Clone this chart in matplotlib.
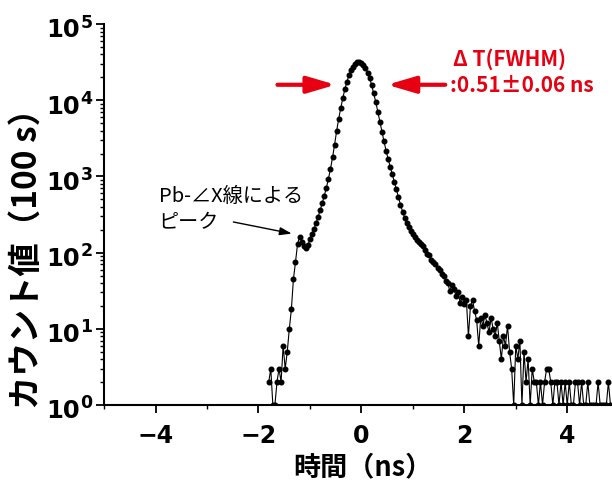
import numpy as np
import matplotlib
matplotlib.use("Agg")
import matplotlib.pyplot as plt
from matplotlib.ticker import MultipleLocator, LogLocator, NullFormatter

# --- Fuentes ---
plt.rcParams['font.family'] = ['Noto Sans CJK JP', 'DejaVu Sans']
TICK_FONT = 'DejaVu Sans'

# --- Datos del espectro de tiempo (canales de 0.04 ns) ---
T0 = -1.80
DT = 0.04

# subida y pico de Pb-LX (-1.80 .. -0.88 ns)
counts_rise = [2, 3, 1, 1, 2, 3, 2, 6, 3, 5, 10, 18, 45, 75, 130, 162,
               140, 122, 116, 125, 150, 175, 205, 245]
# pico principal (-0.84 .. 1.08 ns)
counts_peak = [295, 363, 447, 562, 708, 933, 1260, 1780, 2630, 3980,
               5750, 7940, 10700, 14100, 17600, 21400, 24800, 27600, 29900, 31600,
               32000, 30900, 29200, 26300, 22900, 19500, 15800, 12300, 9500, 7080,
               5250, 3890, 2880, 2190, 1700, 1350, 1070, 851, 676, 537,
               427, 347, 288, 245, 219, 195, 178, 162, 148]
# cola (1.12 .. 4.88 ns)
counts_tail = [138, 128, 122, 110, 95, 92, 80, 76, 70, 63,
               60, 52, 50, 43, 40, 31, 38, 33, 27, 30,
               22, 26, 21, 24, 8, 20, 24, 17, 13, 6,
               14, 11, 15, 12, 9, 14, 10, 8, 12, 7,
               4, 8, 6, 11, 5, 3, 1, 6, 4, 7,
               1, 5, 2, 4, 1, 3, 2, 2, 1, 2,
               1, 2, 3, 3, 2, 1, 2, 2, 1, 2,
               1, 2, 1, 2, 1, 1, 2, 2, 1, 2,
               1, 1, 2, 1, 1, 1, 1, 2, 1, 1,
               1, 1, 2, 1, 1]

counts = np.array(counts_rise + counts_peak + counts_tail, dtype=float)
time_ns = T0 + DT * np.arange(len(counts))

FWHM = 0.51
FWHM_ERR = 0.06
RED = '#e60012'

y_decades = [0, 1, 2, 3, 4, 5]
x_ticks = [-4, -2, 0, 2, 4]
x_labels = ['\u22124', '\u22122', '0', '2', '4']

fig = plt.figure(figsize=(6.12, 4.83), dpi=100)
ax = fig.add_axes([0.170, 0.1615, 0.830, 0.7885])

ax.plot(time_ns, counts, color='black', lw=0.8, marker='o', ms=3.3,
        mfc='black', mec='black')

ax.set_yscale('log')
ax.set_ylim(1, 1e5)
ax.set_xlim(-5, 4.87)

# eje Y: potencias de 10 dibujadas a mano (base grande, exponente grande)
ax.set_yticks([10.0 ** d for d in y_decades])
ax.yaxis.set_major_formatter(NullFormatter())
ax.yaxis.set_minor_locator(LogLocator(base=10, subs=np.arange(2, 10), numticks=10))
ax.yaxis.set_minor_formatter(NullFormatter())
ytrans = ax.get_yaxis_transform()
for d in y_decades:
    ax.annotate('10', xy=(0, 10.0 ** d), xycoords=ytrans, xytext=(-17.5, -9.5),
                textcoords='offset points', ha='right', va='baseline',
                fontsize=17.5, fontfamily=TICK_FONT, fontweight='bold',
                annotation_clip=False)
    ax.annotate(str(d), xy=(0, 10.0 ** d), xycoords=ytrans, xytext=(-17.0, -2.5),
                textcoords='offset points', ha='left', va='baseline',
                fontsize=12.5, fontfamily=TICK_FONT, fontweight='bold',
                annotation_clip=False)

ax.set_xticks(x_ticks, labels=x_labels, fontsize=17, fontfamily=TICK_FONT,
              fontweight='bold')
ax.xaxis.set_minor_locator(MultipleLocator(1))
ax.tick_params(axis='x', which='major', pad=8)

ax.tick_params(which='major', length=6, width=1.3)
ax.tick_params(which='minor', length=3, width=1.0)
for side in ['top', 'right']:
    ax.spines[side].set_visible(False)
for side in ['left', 'bottom']:
    ax.spines[side].set_linewidth(1.5)

ax.set_xlabel('時間（ns）', fontsize=19.5, fontweight='bold')
ax.xaxis.set_label_coords(0.51, -0.127)
ax.set_ylabel('カウント値（100 s）', fontsize=24, fontweight='bold')
ax.yaxis.set_label_coords(-0.118, 0.405)

# --- Anotación del pico Pb-LX ---
ax.text(-3.94, 469, 'Pb-∠X線による', fontsize=14.5, va='baseline', ha='left')
ax.text(-3.94, 207, 'ピーク', fontsize=14.5, va='baseline', ha='left')
ax.annotate('', xy=(-1.30, 175), xytext=(-2.54, 257),
            arrowprops=dict(arrowstyle='-|>,head_length=0.6,head_width=0.2',
                            color='black', lw=1.0, mutation_scale=12))

# --- Flechas de FWHM ---
half_max = counts.max() / 2
arrow_style = '-|>,head_length=0.95,head_width=0.28'
ax.annotate('', xy=(-0.50, half_max), xytext=(-1.63, half_max),
            arrowprops=dict(arrowstyle=arrow_style, color=RED, lw=3,
                            mutation_scale=18, shrinkA=0, shrinkB=0))
ax.annotate('', xy=(0.50, half_max), xytext=(1.63, half_max),
            arrowprops=dict(arrowstyle=arrow_style, color=RED, lw=3,
                            mutation_scale=18, shrinkA=0, shrinkB=0))

ax.text(1.79, 2.8e4, 'Δ T(FWHM)', color=RED, fontsize=15, va='baseline',
        ha='left', fontweight='bold')
ax.text(1.73, 1.27e4, f':{FWHM:.2f}±{FWHM_ERR:.2f} ns', color=RED, fontsize=15,
        va='baseline', ha='left', fontweight='bold')

fig.savefig('out.png', dpi=100)
